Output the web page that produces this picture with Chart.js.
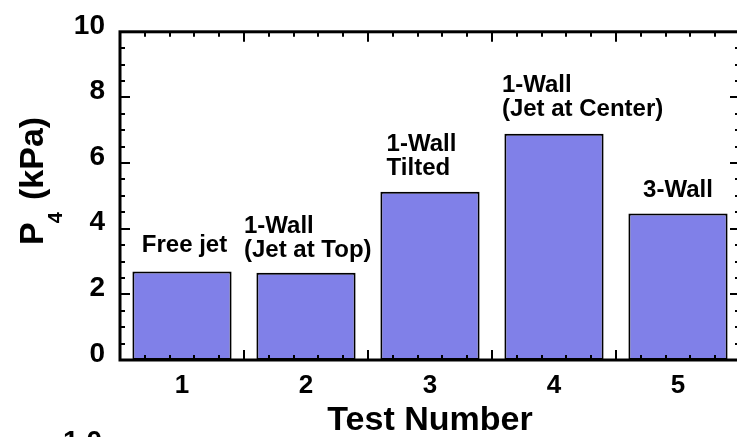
<!DOCTYPE html>
<html>
<head>
<meta charset="utf-8">
<script src="https://cdn.jsdelivr.net/npm/chart.js@4.4.1/dist/chart.umd.min.js"></script>
<style>
  html, body { margin: 0; padding: 0; background: #fff; overflow: hidden; width: 737px; height: 437px; }
  #wrap { position: relative; width: 760px; height: 437px; }
</style>
</head>
<body>
<div id="wrap"><canvas id="chart"></canvas></div>
<script>
// Test cases and measured pressure P4 (kPa)
const testNumbers = ['1', '2', '3', '4', '5'];
const pressureKPa = [2.70, 2.66, 5.13, 6.89, 4.46];
const caseNames = [
  ['Free jet'],
  ['1-Wall', '(Jet at Top)'],
  ['1-Wall', 'Tilted'],
  ['1-Wall', '(Jet at Center)'],
  ['3-Wall']
];
const yMin = 0;
const yMax = 10;
const yStep = 2;

// Where each case name sits: x in category units, y = first baseline in kPa
const caseNameAnchors = [
  { x: 0.02, y: 3.28, align: 'center' },
  { x: 0.50, y: 3.86, align: 'left' },
  { x: 1.65, y: 6.37, align: 'left' },
  { x: 2.58, y: 8.18, align: 'left' },
  { x: 4.00, y: 4.96, align: 'center' }
];

const FONT = '"Liberation Sans", Arial, Helvetica, sans-serif';

// Boxed frame with inward major/minor ticks on all four sides
const frameTicks = {
  id: 'frameTicks',
  afterDatasetsDraw(chart) {
    const { ctx, chartArea: a, scales: { x, y } } = chart;
    ctx.save();
    ctx.strokeStyle = '#000';
    ctx.lineCap = 'butt';
    ctx.lineWidth = 2;
    // y ticks every 0.5, major every 2
    for (let v = yMin; v <= yMax + 1e-9; v += 0.5) {
      const py = Math.round(y.getPixelForValue(v));
      const major = Math.abs(v / yStep - Math.round(v / yStep)) < 1e-6;
      const len = major ? 10 : 5;
      ctx.beginPath();
      ctx.moveTo(a.left, py); ctx.lineTo(a.left + len, py);
      ctx.moveTo(a.right, py); ctx.lineTo(a.right - len, py);
      ctx.stroke();
    }
    // x ticks every 0.2 category, major at category boundaries
    const n = testNumbers.length;
    for (let i = 0; i <= n * 5; i++) {
      const v = -0.5 + i * 0.2;
      const px = Math.round(x.getPixelForValue(v));
      const len = (i % 5 === 0) ? 10 : 5;
      ctx.beginPath();
      ctx.moveTo(px, a.bottom); ctx.lineTo(px, a.bottom - len);
      ctx.moveTo(px, a.top); ctx.lineTo(px, a.top + len);
      ctx.stroke();
    }
    ctx.lineWidth = 3;
    ctx.strokeRect(a.left, a.top, a.right - a.left, a.bottom - a.top);
    ctx.restore();
  }
};

// Case names above the bars
const caseNameLabels = {
  id: 'caseNameLabels',
  afterDatasetsDraw(chart) {
    const { ctx, scales: { x, y } } = chart;
    ctx.save();
    ctx.fillStyle = '#000';
    ctx.font = 'bold 24px ' + FONT;
    ctx.textBaseline = 'alphabetic';
    caseNames.forEach((lines, i) => {
      const an = caseNameAnchors[i];
      const px = x.getPixelForValue(an.x);
      const py = y.getPixelForValue(an.y);
      ctx.textAlign = an.align;
      lines.forEach((t, k) => ctx.fillText(t, px, py + k * 24));
    });
    ctx.restore();
  }
};

// Vertical axis title with subscript: P4 (kPa)
const yAxisTitle = {
  id: 'yAxisTitle',
  afterDraw(chart) {
    const { ctx } = chart;
    ctx.save();
    ctx.fillStyle = '#000';
    ctx.textBaseline = 'alphabetic';
    ctx.textAlign = 'left';
    ctx.translate(43, 245);
    ctx.rotate(-Math.PI / 2);
    ctx.font = 'bold 34px ' + FONT;
    ctx.fillText('P', 0, 0);
    const pw = ctx.measureText('P').width;
    ctx.font = 'bold 20px ' + FONT;
    ctx.fillText('4', pw - 1, 19);
    ctx.font = 'bold 34px ' + FONT;
    ctx.fillText('(kPa)', 45, 0);
    ctx.restore();
    // top of the next panel's axis label peeking in at the bottom edge
    ctx.save();
    ctx.fillStyle = '#000';
    ctx.font = 'bold 28px ' + FONT;
    ctx.textAlign = 'right';
    ctx.textBaseline = 'alphabetic';
    ctx.fillText('1.0', 102, 450);
    ctx.restore();
  }
};

new Chart(document.getElementById('chart'), {
  type: 'bar',
  data: {
    labels: testNumbers,
    datasets: [{
      data: pressureKPa,
      backgroundColor: '#8080e8',
      borderColor: '#000',
      borderWidth: 2,
      borderSkipped: false,
      categoryPercentage: 1.0,
      barPercentage: 0.8
    }]
  },
  options: {
    responsive: true,
    maintainAspectRatio: false,
    animation: false,
    events: [],
    layout: { padding: { left: 0, top: 24, right: 20, bottom: 0 } },
    plugins: { legend: { display: false }, tooltip: { enabled: false } },
    scales: {
      x: {
        grid: { display: false, drawTicks: false },
        border: { display: false },
        ticks: { color: '#000', font: { family: FONT, size: 26, weight: 'bold' }, padding: 10, maxRotation: 0 },
        title: { display: true, text: 'Test Number', color: '#000', font: { family: FONT, size: 34, weight: 'bold', lineHeight: 0.8 }, padding: { top: 0, bottom: 3 } },
        afterFit(s) { s.height = 77; }
      },
      y: {
        min: yMin, max: yMax,
        grid: { display: false, drawTicks: false },
        border: { display: false },
        ticks: { stepSize: yStep, color: '#000', font: { family: FONT, size: 28, weight: 'bold' }, padding: 15, labelOffset: -6 },
        afterFit(s) { s.width = 120; }
      }
    }
  },
  plugins: [frameTicks, caseNameLabels, yAxisTitle]
});
</script>
</body>
</html>
